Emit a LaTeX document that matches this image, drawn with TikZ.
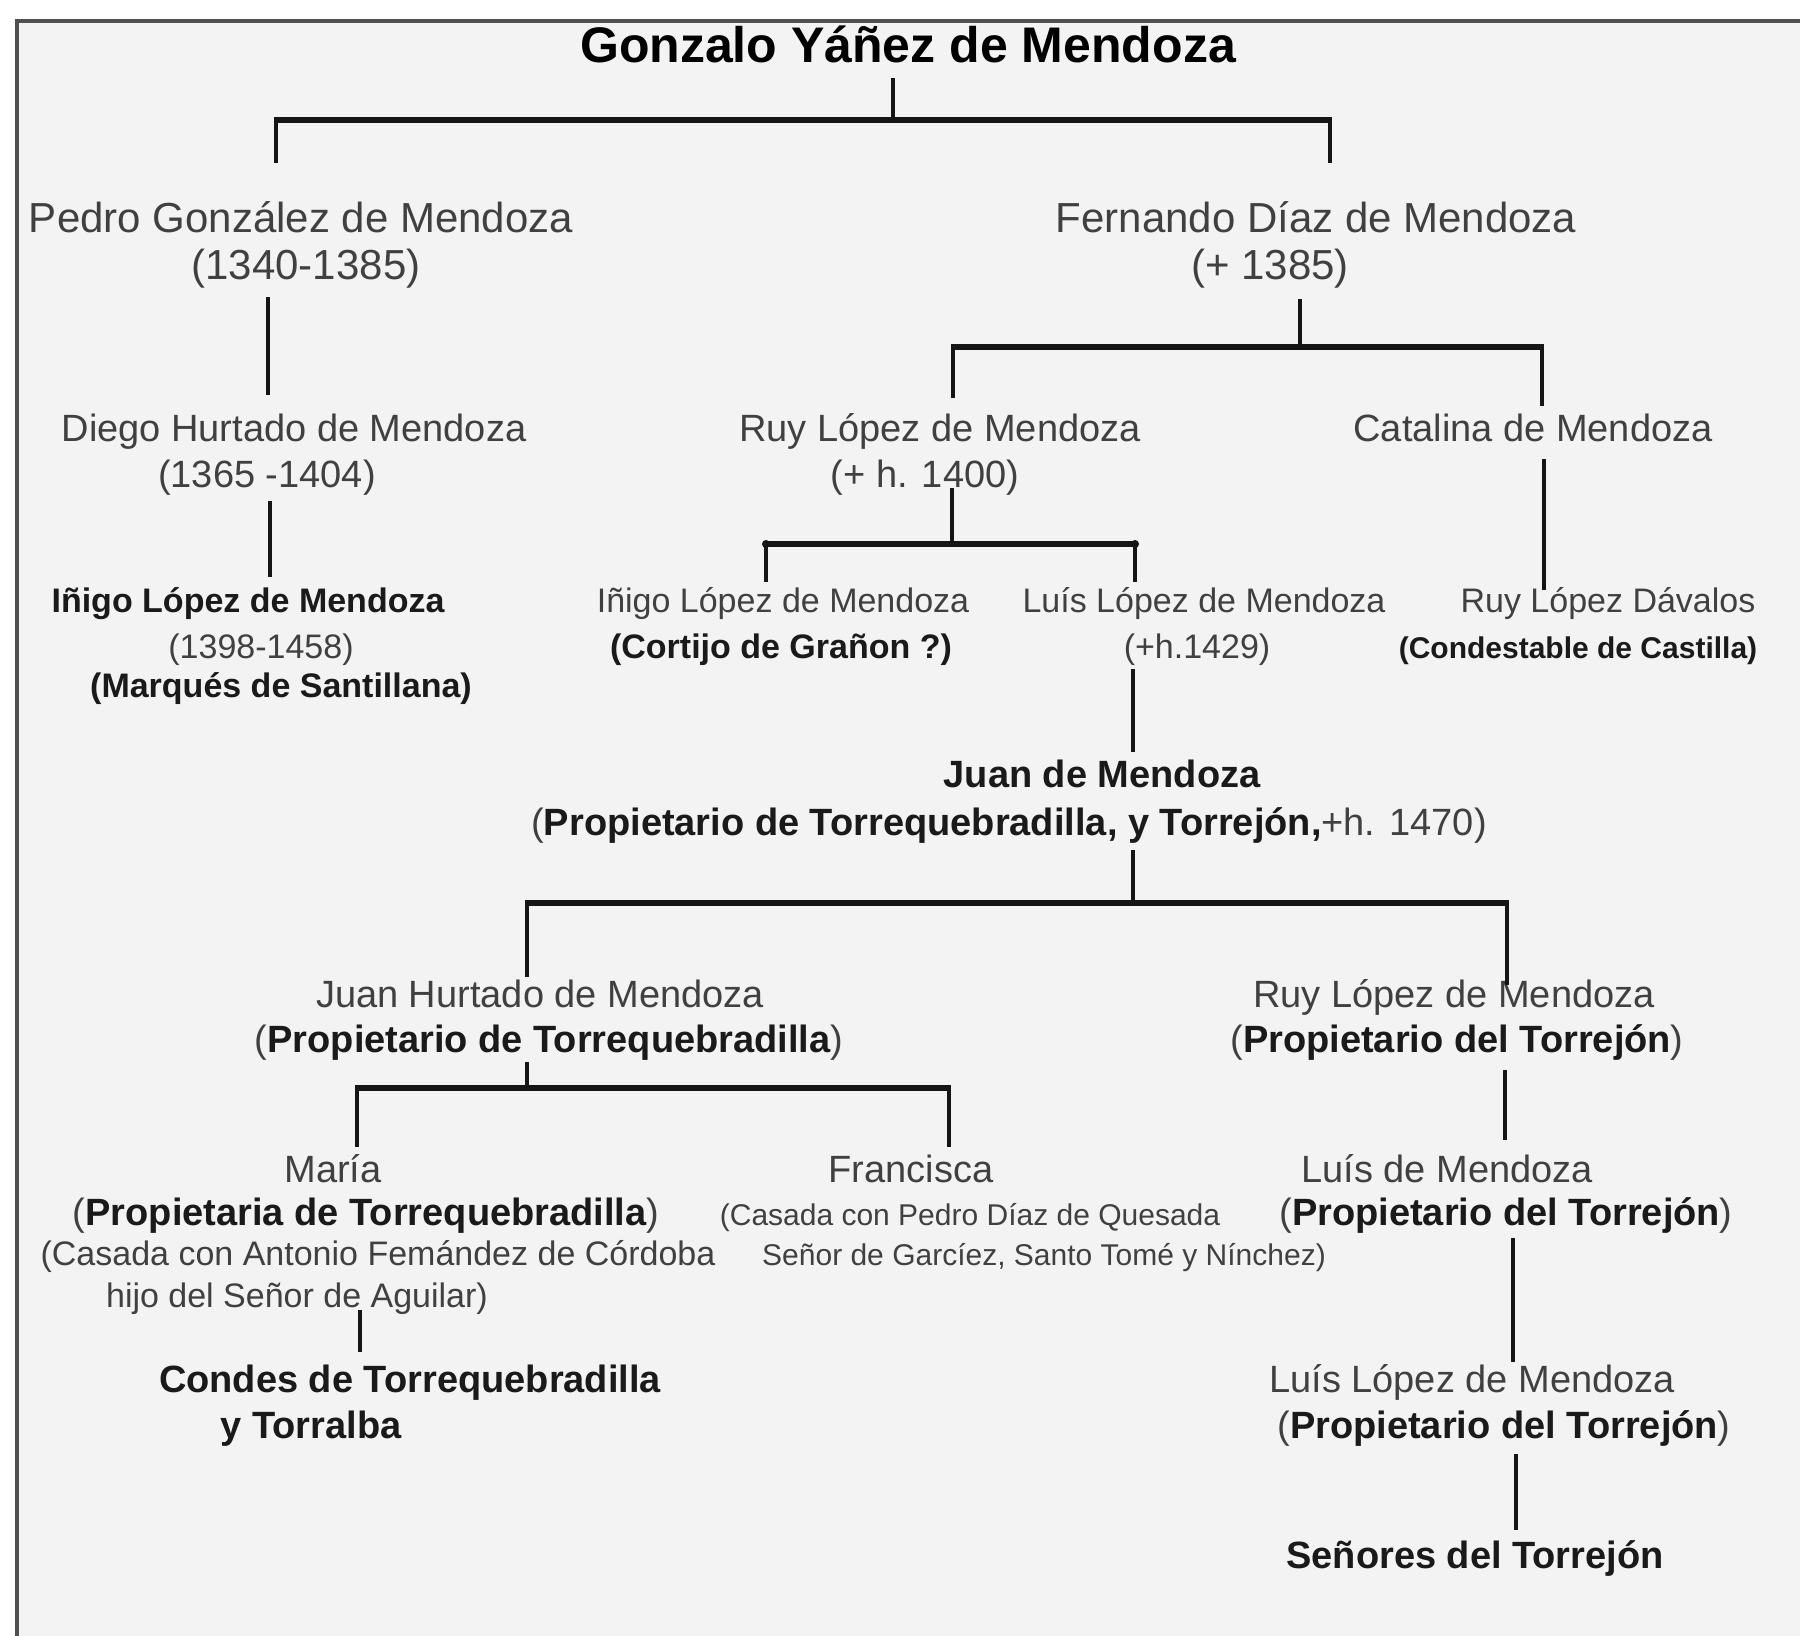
\documentclass[tikz,border=0pt]{standalone}
\usepackage{fontspec}
\setmainfont{Liberation Sans}
\definecolor{bgc}{HTML}{F3F3F3}
\definecolor{framec}{HTML}{505050}
\definecolor{txtreg}{HTML}{404040}
\definecolor{txtbold}{HTML}{1A1A1A}
\definecolor{lnc}{HTML}{151515}
\begin{document}
\begin{tikzpicture}[x=0.5pt,y=-0.5pt,
  txt/.style={inner sep=0pt, anchor=base, text=txtreg},
  bd/.style={text=txtbold},
  fA/.style={font=\fontsize{21}{25}\selectfont},
  fB/.style={font=\fontsize{19}{23}\selectfont},
  fC/.style={font=\fontsize{17}{20}\selectfont},
  fD/.style={font=\fontsize{15}{18}\selectfont},
  fT/.style={font=\fontsize{25}{30}\selectfont\bfseries},
  vline/.style={draw=lnc, line width=2pt},
  hbar/.style={draw=lnc, line width=3pt},
  enddot/.style={fill=lnc}]
\useasboundingbox (0,0) rectangle (1800,1636);
\fill[white] (0,0) rectangle (1800,1636);
\fill[bgc] (17,21) rectangle (1800,1636);
\draw[framec, line width=2pt] (17,1636) -- (17,21) -- (1800,21);

% ---------- texts ----------
\node[txt,fT,text=black] (title) at (908,63) {Gonzalo Yáñez de Mendoza};

\node[txt,fA] (pedro)  at (301,233) {Pedro González de Mendoza};
\node[txt,fA] (pedroD) at (306,280) {(1340-1385)};
\node[txt,fA] (fern)   at (1316,233) {Fernando Díaz de Mendoza};
\node[txt,fA] (fernD)  at (1270,280) {(+ 1385)};

\node[txt,fB] (diego)  at (294,442) {Diego Hurtado de Mendoza};
\node[txt,fB] (diegoD) at (267,488) {(1365 -1404)};
\node[txt,fB] (ruy)    at (940,442) {Ruy López de Mendoza};
\node[txt,fB] (ruyD)   at (925,488) {(+ h. 1400)};
\node[txt,fB] (cata)   at (1533,442) {Catalina de Mendoza};

\node[txt,fC,bd] (inigoA)  at (248,613) {\bfseries Iñigo López de Mendoza};
\node[txt,fC]    (inigoAD) at (261,659) {(1398-1458)};
\node[txt,fC,bd] (inigoAT) at (281,698) {\bfseries (Marqués de Santillana)};
\node[txt,fC]    (inigoB)  at (783,613) {Iñigo López de Mendoza};
\node[txt,fC,bd] (inigoBT) at (781,659) {\bfseries (Cortijo de Grañon ?)};
\node[txt,fC]    (luis)    at (1204,613) {Luís López de Mendoza};
\node[txt,fC]    (luisD)   at (1197,659) {(+h.1429)};
\node[txt,fC]    (dav)     at (1608,613) {Ruy López Dávalos};
\node[txt,fD,bd] (davT)    at (1578,659) {\bfseries (Condestable de Castilla)};

\node[txt,fB,bd] (juan)  at (1102,788) {\bfseries Juan de Mendoza};
\node[txt,fB]    (juanT) at (1009,835) {({\color{txtbold}\bfseries Propietario de Torrequebradilla, y Torrejón,}+h. 1470)};

\node[txt,fB] (juanH)  at (540,1007) {Juan Hurtado de Mendoza};
\node[txt,fB] (juanHT) at (549,1052) {({\color{txtbold}\bfseries Propietario de Torrequebradilla})};
\node[txt,fB] (ruyT)   at (1454,1007) {Ruy López de Mendoza};
\node[txt,fB] (ruyTT)  at (1457,1052) {({\color{txtbold}\bfseries Propietario del Torrejón})};

\node[txt,fB] (maria)   at (333,1182) {María};
\node[txt,fB] (mariaT)  at (366,1225) {({\color{txtbold}\bfseries Propietaria de Torrequebradilla})};
\node[txt,fC] (mariaC1) at (378,1265) {(Casada con Antonio Femández de Córdoba};
\node[txt,fC] (mariaC2) at (297,1307) {hijo del Señor de Aguilar)};
\node[txt,fB] (fran)    at (911,1182) {Francisca};
\node[txt,fD] (franC1)  at (970,1225) {(Casada con Pedro Díaz de Quesada};
\node[txt,fD] (franC2)  at (1044,1265) {Señor de Garcíez, Santo Tomé y Nínchez)};
\node[txt,fB] (luisM)   at (1447,1182) {Luís de Mendoza};
\node[txt,fB] (luisMT)  at (1506,1225) {({\color{txtbold}\bfseries Propietario del Torrejón})};

\node[txt,fB,bd] (condes)  at (410,1392) {\bfseries Condes de Torrequebradilla};
\node[txt,fB,bd] (condes2) at (311,1438) {\bfseries y Torralba};
\node[txt,fB] (luisL)   at (1472,1392) {Luís López de Mendoza};
\node[txt,fB] (luisLT)  at (1504,1438) {({\color{txtbold}\bfseries Propietario del Torrejón})};
\node[txt,fB,bd] (senores) at (1475,1568) {\bfseries Señores del Torrejón};

% ---------- junction coordinates ----------
\coordinate (s0t) at (893,78);   \coordinate (s0b) at (893,120);
\coordinate (b0l) at (276,120);  \coordinate (b0r) at (1330,120);
\coordinate (d0l) at (276,163);  \coordinate (d0r) at (1330,163);

\coordinate (p1) at (268,297);   \coordinate (p2) at (268,395);

\coordinate (f0) at (1300,299);  \coordinate (f1) at (1300,347);
\coordinate (b1l) at (953,347);  \coordinate (b1r) at (1542,347);
\coordinate (d1l) at (953,398);  \coordinate (d1r) at (1542,406);

\coordinate (g1) at (270,501);   \coordinate (g2) at (270,577);

\coordinate (r0) at (952,488);   \coordinate (r1) at (952,544);
\coordinate (b2l) at (766,544);  \coordinate (b2r) at (1135,544);
\coordinate (d2l) at (766,582);  \coordinate (d2r) at (1135,582);

\coordinate (c1) at (1544,459);  \coordinate (c2) at (1544,590);

\coordinate (l1) at (1133,669);  \coordinate (l2) at (1133,752);

\coordinate (j0) at (1133,850);  \coordinate (j1) at (1133,903);
\coordinate (b3l) at (527,903);  \coordinate (b3r) at (1507,903);
\coordinate (d3l) at (527,977);  \coordinate (d3r) at (1507,985);

\coordinate (h0) at (527,1062);  \coordinate (h1) at (527,1088);
\coordinate (b4l) at (357,1088); \coordinate (b4r) at (949,1088);
\coordinate (d4l) at (357,1147); \coordinate (d4r) at (949,1147);

\coordinate (t1) at (1505,1070); \coordinate (t2) at (1505,1140);
\coordinate (u1) at (1513,1238); \coordinate (u2) at (1513,1362);
\coordinate (v1) at (1516,1454); \coordinate (v2) at (1516,1530);
\coordinate (m1) at (360,1310);  \coordinate (m2) at (360,1352);

% ---------- connectors ----------
\draw[vline] (s0t) -- (s0b);
\draw[hbar] ([xshift=-1pt]b0l) -- ([xshift=1pt]b0r);
\draw[vline] (b0l) -- (d0l);
\draw[vline] (b0r) -- (d0r);

\draw[vline] (p1) -- (p2);

\draw[vline] (f0) -- (f1);
\draw[hbar] ([xshift=-1pt]b1l) -- ([xshift=1pt]b1r);
\draw[vline] (b1l) -- (d1l);
\draw[vline] (b1r) -- (d1r);

\draw[vline] (g1) -- (g2);

\draw[vline] (r0) -- (r1);
\draw[hbar] ([xshift=-1pt]b2l) -- ([xshift=1pt]b2r);
\fill[enddot] (b2l) circle (2pt);
\fill[enddot] (b2r) circle (2pt);
\draw[vline] (b2l) -- (d2l);
\draw[vline] (b2r) -- (d2r);

\draw[vline] (c1) -- (c2);
\draw[vline] (l1) -- (l2);

\draw[vline] (j0) -- (j1);
\draw[hbar] ([xshift=-1pt]b3l) -- ([xshift=1pt]b3r);
\draw[vline] (b3l) -- (d3l);
\draw[vline] (b3r) -- (d3r);

\draw[vline] (h0) -- (h1);
\draw[hbar] ([xshift=-1pt]b4l) -- ([xshift=1pt]b4r);
\draw[vline] (b4l) -- (d4l);
\draw[vline] (b4r) -- (d4r);

\draw[vline] (t1) -- (t2);
\draw[vline] (u1) -- (u2);
\draw[vline] (v1) -- (v2);
\draw[vline] (m1) -- (m2);
\end{tikzpicture}
\end{document}
